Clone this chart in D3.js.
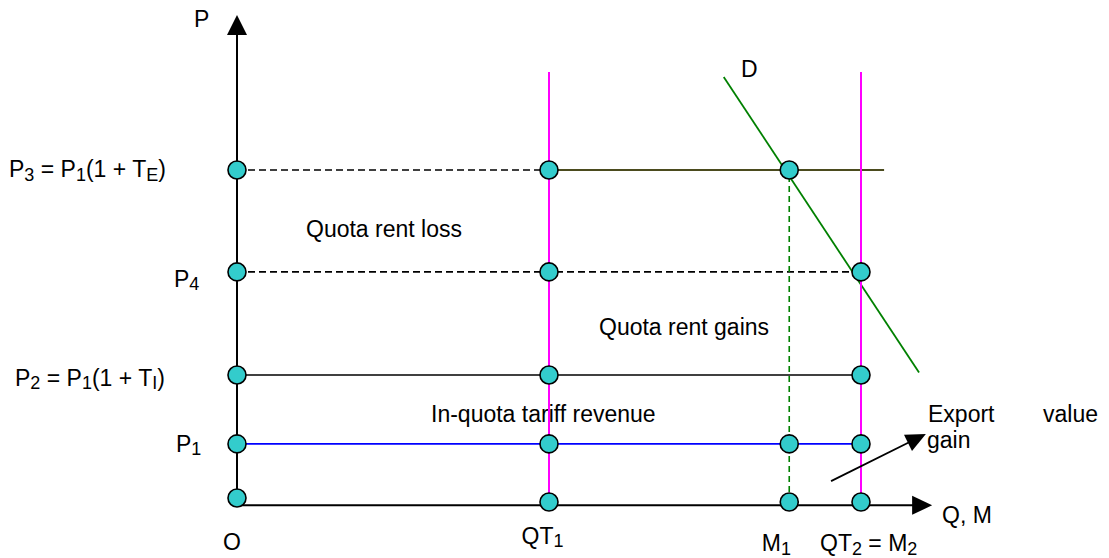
<!DOCTYPE html>
<html>
<head>
<meta charset="utf-8">
<script src="https://cdn.jsdelivr.net/npm/d3@7"></script>
<style>
  html, body { margin: 0; padding: 0; background: #fff; }
  svg { display: block; font-family: "Liberation Sans", Arial, sans-serif; }
</style>
</head>
<body>
<svg id="chart" width="1109" height="558"></svg>
<script>
// ---------- DATA ----------
// price levels (value units on P axis)
const priceNames  = ["P3", "P4", "P2", "P1", "O"];
const priceValues = [100, 69.3, 38.25, 17.5, 0];
const priceLabels = ["P_3 = P_1(1 + T_E)", "P_4", "P_2 = P_1(1 + T_I)", "P_1"];

// quantity levels (value units on Q axis)
const quantityNames  = ["O", "QT1", "M1", "QT2"];
const quantityValues = [0, 50, 88.5, 100];
const quantityLabels = ["O", "QT_1", "M_1", "QT_2 = M_2"];

// horizontal segments: [price, fromQ, toQ]
const segP3dash  = [100, 0, 50];
const segP3solid = [100, 50, 103.7];
const segP4dash  = [69.3, 0, 100];
const segP2      = [38.25, 0, 100];
const segP1      = [17.5, 0, 100];

// vertical quota lines: [quantity, fromP, toP]
const quotaQT1 = [50, 0, 129.5];
const quotaQT2 = [100, 0, 129.5];
const importM1 = [88.5, 0, 100];

// demand curve D end points
const demandQ = [78, 109.3];
const demandP = [128, 39];

// points drawn (quantity, price)
const pointsQ = [0, 50, 88.5,   0, 50, 100,   0, 50, 100,   0, 50, 88.5, 100,   0, 50, 88.5, 100];
const pointsP = [100, 100, 100, 69.3, 69.3, 69.3, 38.25, 38.25, 38.25, 17.5, 17.5, 17.5, 17.5, 1.2, 0, 0, 0];

// axes extents
const axisQEnd = 111.4, axisPEnd = 146.7, axisQLevel = -1;

// export value gain arrow [q, p]
const exportFrom = [95.2, 6.3];
const exportTo   = [110.4, 20.5];

// annotation texts
const annotations = ["Quota rent loss", "Quota rent gains", "In-quota tariff revenue", "Export", "value", "gain", "P", "D", "Q, M"];

// ---------- LAYOUT ----------
const svg = d3.select("#chart");
const x = d3.scaleLinear().domain([0, 100]).range([237, 861]);
const y = d3.scaleLinear().domain([0, 100]).range([502, 170]);

const FONT = 23, SUB = 18, SUBDY = 3.5;
const BLACK = "#000", MAGENTA = "#ff00ff", BLUE = "#0000ff", GREEN = "#008000", OLIVE = "#4b4b1e", DOT = "#33cccc";

function richText(g, str, px, py, size) {
  const t = g.append("text").attr("x", px).attr("y", py).attr("font-size", size || FONT).attr("fill", BLACK);
  const parts = str.split(/(_.)/).filter(s => s.length);
  let sub = false;
  parts.forEach(p => {
    if (p[0] === "_") {
      t.append("tspan").attr("font-size", SUB).attr("dy", SUBDY).text(p[1]);
      sub = true;
    } else {
      const ts = t.append("tspan").text(p);
      if (sub) { ts.attr("dy", -SUBDY); sub = false; }
    }
  });
  return t;
}

function arrowHead(g, tip, dir, len, hw) {
  const n = Math.hypot(dir[0], dir[1]);
  const ux = dir[0] / n, uy = dir[1] / n;
  const bx = tip[0] - ux * len, by = tip[1] - uy * len;
  const pts = [[tip[0], tip[1]], [bx - uy * hw, by + ux * hw], [bx + uy * hw, by - ux * hw]];
  g.append("polygon").attr("points", pts.map(p => p.join(",")).join(" ")).attr("fill", BLACK);
}

// ---------- TEXT ----------
const tg = svg.append("g");
const priceLabelPos = [[9, 7], [174, 15], [15, 10.7], [176, 7.7]];
priceLabels.forEach((s, i) => richText(tg, s, priceLabelPos[i][0], y(priceValues[i]) + priceLabelPos[i][1]));

const qLabelPos = [[-14, 550], [-27.5, 543.5], [-27.5, 551], [-41, 551]];
quantityLabels.forEach((s, i) => richText(tg, s, x(quantityValues[i]) + qLabelPos[i][0], qLabelPos[i][1]));

const annoPos = [[306, 237], [599, 335], [431, 421.7], [928, 421.7], [1043, 421.7], [927, 448], [194, 27], [741, 77], [942, 523]];
annotations.forEach((s, i) => richText(tg, s, annoPos[i][0], annoPos[i][1]));

// ---------- LINES ----------
const lg = svg.append("g").attr("fill", "none");
function hSeg(seg, color, w, dash) {
  lg.append("line").attr("x1", x(seg[1])).attr("x2", x(seg[2]))
    .attr("y1", y(seg[0])).attr("y2", y(seg[0]))
    .attr("stroke", color).attr("stroke-width", w).attr("stroke-dasharray", dash || null);
}
function vSeg(seg, color, w, dash) {
  lg.append("line").attr("x1", x(seg[0])).attr("x2", x(seg[0]))
    .attr("y1", y(seg[1])).attr("y2", y(seg[2]))
    .attr("stroke", color).attr("stroke-width", w).attr("stroke-dasharray", dash || null);
}

// axes
lg.append("line").attr("x1", x(0)).attr("x2", x(0)).attr("y1", y(1.2)).attr("y2", y(axisPEnd) + 19)
  .attr("stroke", BLACK).attr("stroke-width", 2);
arrowHead(svg, [x(0), y(axisPEnd)], [0, -1], 20, 10);
lg.append("line").attr("x1", x(0)).attr("x2", x(axisQEnd) - 19).attr("y1", y(axisQLevel)).attr("y2", y(axisQLevel))
  .attr("stroke", BLACK).attr("stroke-width", 2);

hSeg(segP3dash, BLACK, 1.7, "7,4");
hSeg(segP3solid, OLIVE, 2);
hSeg(segP4dash, BLACK, 1.7, "7,4");
hSeg(segP2, BLACK, 1.7);
hSeg(segP1, BLUE, 1.7);
vSeg(importM1, GREEN, 1.6, "6,4");

// demand curve
lg.append("path")
  .attr("d", d3.line().x(d => x(d[0])).y(d => y(d[1]))(d3.zip(demandQ, demandP)))
  .attr("stroke", GREEN).attr("stroke-width", 1.8);

// quota lines on top
vSeg(quotaQT1, MAGENTA, 2);
vSeg(quotaQT2, MAGENTA, 2);

const ag = svg.append("g");
arrowHead(ag, [x(axisQEnd), y(axisQLevel)], [1, 0], 20, 9.5);

// export value gain arrow
const ef = [x(exportFrom[0]), y(exportFrom[1])], et = [x(exportTo[0]), y(exportTo[1])];
ag.append("line").attr("x1", ef[0]).attr("y1", ef[1])
  .attr("x2", et[0] - (et[0] - ef[0]) * 0.15).attr("y2", et[1] - (et[1] - ef[1]) * 0.15)
  .attr("stroke", BLACK).attr("stroke-width", 1.8);
arrowHead(ag, et, [et[0] - ef[0], et[1] - ef[1]], 20, 9);

// ---------- POINTS ----------
svg.append("g").selectAll("circle")
  .data(d3.zip(pointsQ, pointsP))
  .join("circle")
  .attr("cx", d => x(d[0])).attr("cy", d => y(d[1])).attr("r", 9)
  .attr("fill", DOT).attr("stroke", BLACK).attr("stroke-width", 1.6);
</script>
</body>
</html>
